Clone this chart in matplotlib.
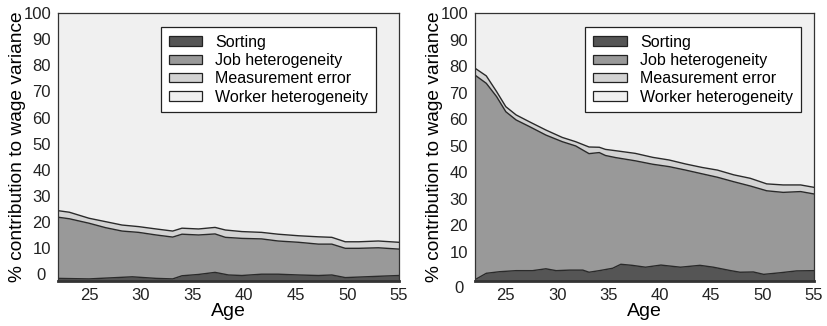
import matplotlib
matplotlib.use("Agg")
import matplotlib.pyplot as plt
import matplotlib.transforms as mtransforms
from matplotlib.patches import Patch

plt.rcParams['font.family'] = ['Liberation Sans', 'DejaVu Sans']

# ---------- data (cumulative layer tops, % of wage variance) ----------

# left panel
left_age = [22, 23.1, 25.0, 26.6, 28.2, 29.8, 31.5, 33.1, 34.0, 35.6, 37.2, 38.2,
            39.8, 41.7, 43.3, 45.3, 47.2, 48.5, 49.8, 51.1, 53.0, 55]
left_meas_top = [24.4, 23.8, 21.5, 20.2, 18.9, 18.3, 17.4, 16.6, 17.7, 17.4, 18.0, 17.0,
                 16.4, 16.1, 15.4, 14.8, 14.4, 14.2, 12.5, 12.5, 12.8, 12.3]
left_job_top = [21.9, 21.3, 19.6, 17.9, 16.6, 16.1, 15.1, 14.3, 15.4, 15.1, 15.5, 14.2,
                13.8, 13.6, 12.8, 12.3, 11.6, 11.6, 10.0, 10.0, 10.2, 9.7]
left_sort_age = [22, 25, 29.2, 31.5, 33.1, 34.0, 35.6, 37.2, 38.5, 39.8, 41.7, 43.3,
                 45.3, 47.2, 48.5, 49.8, 51.1, 53, 55]
left_sort_top = [-1.5, -1.7, -0.9, -1.5, -1.7, -0.5, 0.0, 0.8, -0.2, -0.4, 0.1, 0.1,
                 -0.2, -0.4, -0.2, -1.2, -1.0, -0.7, -0.4]

# right panel
right_age = [22, 23.1, 24.1, 25.0, 26.0, 27.3, 28.9, 30.5, 31.8, 33.1, 34.1, 34.7, 35.7,
             37.6, 39.3, 40.9, 42.5, 44.1, 45.6, 47.2, 48.8, 50.4, 52.0, 53.7, 55]
right_meas_top = [79.2, 76.3, 70.4, 64.7, 61.6, 59.0, 55.9, 53.1, 51.5, 49.5, 49.4, 48.6, 48.1,
                  47.1, 45.6, 44.6, 43.1, 41.8, 40.8, 39.0, 37.7, 35.6, 35.2, 35.2, 34.3]
right_job_top = [76.6, 73.5, 68.5, 62.8, 59.7, 57.2, 54.0, 51.5, 49.9, 47.0, 47.4, 46.3, 45.5,
                 44.3, 43.0, 42.1, 40.8, 39.4, 38.1, 36.4, 34.8, 33.0, 32.4, 32.7, 31.8]
right_sort_age = [22, 23.1, 24.4, 26.0, 27.6, 28.9, 29.9, 31.2, 32.5, 33.1, 34.1, 35.4, 36.2,
                  37.3, 38.6, 40.1, 42.0, 43.9, 45.2, 46.9, 47.8, 49.1, 50.1, 51.7, 53.3, 55]
right_sort_top = [-0.5, 1.9, 2.5, 2.9, 2.9, 3.6, 2.9, 3.1, 3.1, 2.3, 2.9, 3.8, 5.3,
                  4.9, 4.2, 5.0, 4.2, 4.9, 4.2, 2.9, 2.3, 2.4, 1.5, 2.1, 2.8, 2.9]

labels = ["Sorting", "Job heterogeneity", "Measurement error", "Worker heterogeneity"]
colors = ["#555555", "#999999", "#d3d3d3", "#f0f0f0"]
xticks = [25, 30, 35, 40, 45, 50, 55]
yticks = [0, 10, 20, 30, 40, 50, 60, 70, 80, 90, 100]

EDGE = "#2a2a2a"


def draw_panel(ax, age, meas_top, job_top, sort_age, sort_top, ymin, zero_shift, leg_anchor):
    ax.set_xlim(22, 55)
    ax.set_ylim(ymin, 100)
    ax.set_facecolor(colors[3])
    # layers painted from the axis bottom, top layer first
    ax.fill_between(age, ymin, meas_top, color=colors[2], lw=0)
    ax.fill_between(age, ymin, job_top, color=colors[1], lw=0)
    ax.fill_between(sort_age, ymin, sort_top, color=colors[0], lw=0)
    for xs, ys in [(age, meas_top), (age, job_top), (sort_age, sort_top)]:
        ax.plot(xs, ys, color=EDGE, lw=1.0)

    ax.set_xticks(xticks)
    ax.set_yticks(yticks)
    ax.tick_params(length=0, labelsize=12, colors="#222222")
    ax.tick_params(axis="x", pad=5)
    ax.tick_params(axis="y", pad=5)
    ax.set_xlabel("Age", fontsize=14, labelpad=0)
    ax.set_ylabel("% contribution to wage variance", fontsize=13.8, labelpad=-2)
    for side in ["left", "top", "right"]:
        ax.spines[side].set_linewidth(0.9)
        ax.spines[side].set_color("#333333")
    ax.spines["bottom"].set_linewidth(2.0)
    ax.spines["bottom"].set_color("#333333")

    # the "0" label sits a little off in the original
    zero = ax.get_yticklabels()[0]
    dx, dy = zero_shift
    zero.set_transform(zero.get_transform() +
                       mtransforms.ScaledTranslation(dx / 100, dy / 100, ax.figure.dpi_scale_trans))

    handles = [Patch(facecolor=c, edgecolor="#222222", lw=0.9) for c in colors]
    leg = ax.legend(handles, labels, loc="upper right", bbox_to_anchor=leg_anchor,
                    borderaxespad=0, fontsize=11.5, handlelength=2.1, handleheight=0.55,
                    handletextpad=0.8, labelspacing=0.2, borderpad=0.5,
                    fancybox=False, framealpha=1, facecolor="white", edgecolor="#222222")
    leg.get_frame().set_linewidth(0.9)


fig = plt.figure(figsize=(8.28, 3.26), dpi=100)
ax1 = fig.add_axes([58 / 828, 1 - 281 / 326, 341 / 828, 268 / 326])
ax2 = fig.add_axes([475 / 828, 1 - 281 / 326, 339 / 828, 268 / 326])

draw_panel(ax1, left_age, left_meas_top, left_job_top, left_sort_age, left_sort_top,
           -2.5, (-5, 0), (0.933, 0.948))
draw_panel(ax2, right_age, right_meas_top, right_job_top, right_sort_age, right_sort_top,
           -1.0, (-4, -9), (0.961, 0.948))

fig.savefig("out.png", dpi=100)
